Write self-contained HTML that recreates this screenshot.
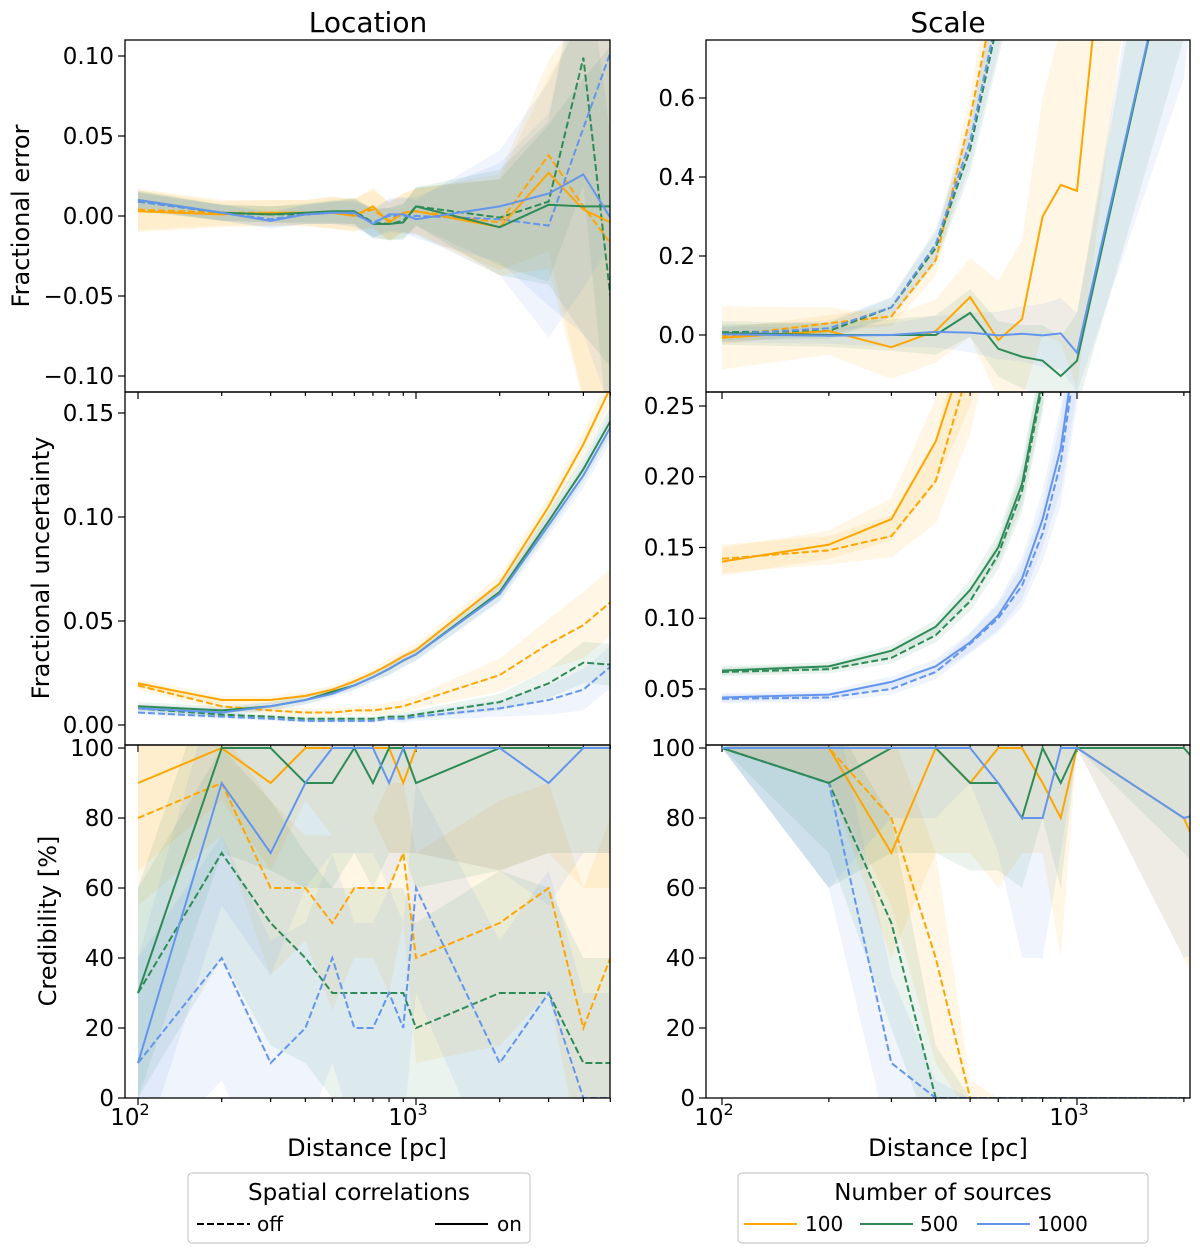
<!DOCTYPE html>
<html><head><meta charset="utf-8">
<style>
html,body{margin:0;padding:0;background:#fff;}
svg{display:block;font-family:"DejaVu Sans","Liberation Sans",sans-serif;}
</style></head>
<body>
<svg id="chart" width="1200" height="1254" viewBox="0 0 1200 1254" xmlns="http://www.w3.org/2000/svg">
<text x="368" y="32" font-size="28" text-anchor="middle">Location</text>
<text x="948" y="32" font-size="28" text-anchor="middle">Scale</text>
<text transform="translate(29,216) rotate(-90)" font-size="24" text-anchor="middle">Fractional error</text>
<text transform="translate(49,568) rotate(-90)" font-size="24" text-anchor="middle">Fractional uncertainty</text>
<text transform="translate(56,921) rotate(-90)" font-size="24" text-anchor="middle">Credibility [%]</text>
<text x="367" y="1156" font-size="24" text-anchor="middle">Distance [pc]</text>
<text x="948" y="1156" font-size="24" text-anchor="middle">Distance [pc]</text>
<g id="panels"></g>
<g>
<rect x="188" y="1173" width="342" height="70" rx="4" fill="#fff" stroke="#ccc" stroke-width="1.2"/>
<text x="359" y="1200" font-size="23" text-anchor="middle">Spatial correlations</text>
<g><line x1="197" y1="1224" x2="250" y2="1224" stroke="#000" stroke-width="2" stroke-dasharray="7,3"/><text x="257" y="1231" font-size="20">off</text></g>
<g><line x1="435" y1="1224" x2="488" y2="1224" stroke="#000" stroke-width="2"/><text x="497" y="1231" font-size="20">on</text></g>
</g>
<g>
<rect x="738" y="1173" width="410" height="70" rx="4" fill="#fff" stroke="#ccc" stroke-width="1.2"/>
<text x="943" y="1200" font-size="23" text-anchor="middle">Number of sources</text>
<g><line x1="744" y1="1224" x2="797" y2="1224" stroke="#FFA500" stroke-width="2"/><text x="805" y="1231" font-size="20">100</text></g>
<g><line x1="860" y1="1224" x2="913" y2="1224" stroke="#2E8B57" stroke-width="2"/><text x="920" y="1231" font-size="20">500</text></g>
<g><line x1="977" y1="1224" x2="1030" y2="1224" stroke="#6495ED" stroke-width="2"/><text x="1037" y="1231" font-size="20">1000</text></g>
</g>
</svg>
<script>
// distances
const distL = [100,200,300,400,500,600,700,800,900,1000,2000,3000,4000,5000];
const distR = [100,200,300,400,500,600,700,800,900,1000,2000,3000];

// Location - fractional error
const tlOrangeOn  = [0.003,0.001,0.002,0.002,0.002,0.000,0.006,-0.004,0.002,0.003,-0.007,0.027,0.004,-0.004];
const tlOrangeOff = [0.004,0.002,0.002,0.002,0.002,0.001,0.004,-0.003,0.002,0.003,-0.004,0.038,0.006,-0.017];
const tlGreenOn   = [0.010,0.002,0.001,0.002,0.003,0.003,-0.005,-0.005,-0.004,0.006,-0.007,0.007,0.006,0.006];
const tlGreenOff  = [0.009,0.002,0.001,0.001,0.002,0.003,-0.004,-0.005,-0.003,0.006,-0.001,0.009,0.099,-0.050];
const tlBlueOn    = [0.010,0.002,-0.003,0.001,0.002,0.002,-0.005,0.001,0.001,-0.002,0.006,0.014,0.026,-0.001];
const tlBlueOff   = [0.009,0.002,-0.002,0.001,0.002,0.001,-0.004,0.000,0.000,0.000,-0.002,-0.006,0.055,0.102];
const tlErrO = [0.013,0.008,0.008,0.008,0.010,0.010,0.012,0.012,0.012,0.014,0.030,0.060,0.120,0.150];
const tlErrG = [0.006,0.005,0.005,0.006,0.007,0.008,0.009,0.010,0.011,0.012,0.030,0.050,0.080,0.100];
const tlErrB = [0.005,0.005,0.005,0.006,0.007,0.008,0.009,0.010,0.011,0.012,0.035,0.070,0.100,0.120];

// Location - fractional uncertainty
const mlOrangeOn  = [0.020,0.012,0.012,0.014,0.017,0.021,0.025,0.029,0.033,0.036,0.068,0.105,0.135,0.162];
const mlOrangeOff = [0.019,0.009,0.007,0.006,0.006,0.007,0.007,0.008,0.009,0.011,0.024,0.039,0.048,0.059];
const mlGreenOn   = [0.009,0.007,0.009,0.012,0.016,0.019,0.023,0.027,0.031,0.034,0.064,0.098,0.123,0.146];
const mlGreenOff  = [0.008,0.005,0.004,0.003,0.003,0.003,0.003,0.004,0.004,0.005,0.011,0.020,0.030,0.029];
const mlBlueOn    = [0.008,0.006,0.009,0.012,0.015,0.019,0.023,0.027,0.031,0.034,0.063,0.096,0.120,0.143];
const mlBlueOff   = [0.006,0.004,0.003,0.002,0.002,0.002,0.002,0.003,0.003,0.004,0.008,0.012,0.017,0.028];
const mlErrOn  = [0.002,0.002,0.002,0.002,0.002,0.002,0.002,0.003,0.003,0.003,0.004,0.005,0.006,0.007];
const mlErrOffO = [0.002,0.002,0.002,0.002,0.002,0.002,0.002,0.003,0.003,0.003,0.008,0.012,0.016,0.016];
const mlErrOffG = [0.001,0.001,0.001,0.001,0.001,0.001,0.001,0.001,0.002,0.002,0.004,0.007,0.010,0.010];

// Location - credibility
const blOrangeOn  = [90,100,90,100,100,100,100,100,90,100,100,100,100,100];
const blOrangeOff = [80,90,60,60,50,60,60,60,70,40,50,60,20,40];
const blGreenOn   = [30,100,100,90,90,100,90,100,100,90,100,100,100,100];
const blGreenOff  = [30,70,50,40,30,30,30,30,30,20,30,30,10,10];
const blBlueOn    = [10,90,70,90,100,100,100,90,100,100,100,90,100,100];
const blBlueOff   = [10,40,10,20,40,20,20,30,20,60,10,30,0,0];
const blErrO = [25,15,25,15,25,20,20,30,20,30,35,30,40,40];
const blErrG = [30,30,35,30,30,30,30,30,30,30,35,30,30,30];
const blErrB = [30,35,35,30,30,30,30,30,30,30,35,35,30,30];

// Scale - fractional error
const trOrangeOn  = [-0.007,0.010,-0.031,0.010,0.096,-0.013,0.040,0.300,0.380,0.365,3.0,5.0];
const trOrangeOff = [-0.004,0.030,0.047,0.190,0.550,0.900,1.200,1.600,2.000,2.400,5.0,8.0];
const trGreenOn   = [0.005,0.000,0.000,0.000,0.056,-0.035,-0.055,-0.065,-0.104,-0.065,1.150,3.0];
const trGreenOff  = [0.007,0.010,0.070,0.220,0.470,0.800,1.100,1.500,1.900,2.300,5.0,8.0];
const trBlueOn    = [0.002,-0.002,0.000,0.008,0.006,-0.001,0.003,-0.001,0.004,-0.045,1.150,3.0];
const trBlueOff   = [0.002,0.017,0.070,0.230,0.490,0.820,1.120,1.500,1.900,2.300,5.0,8.0];
const trErrO  = [0.080,0.060,0.080,0.080,0.100,0.150,0.200,0.300,0.400,0.500,1.0,1.5];
const trErrG  = [0.030,0.030,0.040,0.050,0.060,0.070,0.080,0.090,0.100,0.120,0.40,0.6];
const trErrB  = [0.020,0.020,0.030,0.040,0.050,0.060,0.070,0.080,0.090,0.100,0.50,0.8];
const trErrOff = [0.020,0.020,0.025,0.040,0.060,0.100,0.150,0.200,0.300,0.400,1.0,1.5];

// Scale - fractional uncertainty
const mrOrangeOn  = [0.140,0.152,0.170,0.225,0.300,0.450,0.600,0.800,1.000,1.200,3.0,5.0];
const mrOrangeOff = [0.142,0.148,0.158,0.197,0.280,0.400,0.550,0.750,0.950,1.150,3.0,5.0];
const mrGreenOn   = [0.063,0.066,0.077,0.094,0.120,0.150,0.195,0.270,0.400,0.550,1.5,3.0];
const mrGreenOff  = [0.062,0.064,0.072,0.088,0.112,0.145,0.190,0.265,0.390,0.540,1.5,3.0];
const mrBlueOn    = [0.044,0.046,0.055,0.066,0.083,0.102,0.128,0.170,0.220,0.300,1.0,2.0];
const mrBlueOff   = [0.043,0.044,0.050,0.062,0.082,0.100,0.123,0.160,0.210,0.290,1.0,2.0];
const mrErrO  = [0.010,0.010,0.015,0.030,0.050,0.080,0.100,0.150,0.200,0.250,0.5,1.0];
const mrErrGB = [0.003,0.003,0.004,0.005,0.007,0.010,0.015,0.020,0.030,0.040,0.1,0.2];

// Scale - credibility
const brOrangeOn  = [100,100,70,100,90,100,100,90,80,100,80,40];
const brOrangeOff = [100,100,80,40,0,0,0,0,0,0,0,0];
const brGreenOn   = [100,90,100,100,90,90,80,100,90,100,100,80];
const brGreenOff  = [100,90,50,0,0,0,0,0,0,0,0,0];
const brBlueOn    = [100,100,100,100,100,90,80,80,100,100,80,85];
const brBlueOff   = [100,90,10,0,0,0,0,0,0,0,0,0];
const brErrO = [0,10,30,30,20,40,30,20,40,0,40,40];
const brErrG = [0,30,30,30,25,25,20,20,30,0,30,30];
const brErrB = [0,40,20,20,10,20,40,40,30,0,40,40];
const brErrOffO = [0,10,25,30,5,0,0,0,0,0,0,0];
const brErrOffG = [0,20,30,15,0,0,0,0,0,0,0,0];
const brErrOffB = [0,30,25,5,0,0,0,0,0,0,0,0];

// tick values
const tlTicks = [-0.10,-0.05,0.00,0.05,0.10];
const mlTicks = [0.00,0.05,0.10,0.15];
const crTicks = [0,20,40,60,80,100];
const trTicks = [0.0,0.2,0.4,0.6];
const mrTicks = [0.05,0.10,0.15,0.20,0.25];

const OR='#FFA500', GR='#2E8B57', BL='#6495ED';
const NS='http://www.w3.org/2000/svg';
const root=document.getElementById('panels');
function mk(tag,attrs,parent){const e=document.createElementNS(NS,tag);for(const k in attrs)e.setAttribute(k,attrs[k]);(parent||root).appendChild(e);return e;}
function fmt(v,dec){let s=v.toFixed(dec);if(v<0)s='\u2212'+s.slice(1);return s;}

let clipId=0;
function panel(name,box,xcfg,ydom,ticks,dec,series,showXLab){
  const g=mk('g',{});
  
  
  const xs=d=>xcfg.x0+xcfg.dec*(Math.log10(d)-2);
  const ys=v=>box.y1-(v-ydom[0])/(ydom[1]-ydom[0])*(box.y1-box.y0);
  const cid='clip'+(clipId++);
  const cp=mk('clipPath',{id:cid},g);
  mk('rect',{x:box.x0,y:box.y0,width:box.x1-box.x0,height:box.y1-box.y0},cp);
  const pg=mk('g',{'clip-path':'url(#'+cid+')'},g);
  series.forEach(s=>{
    if(!s.e) return;
    let pts=s.d.map((d,i)=>xs(d)+','+ys(s.v[i]+s.e[i]));
    let lo=s.d.map((d,i)=>xs(d)+','+ys(s.v[i]-s.e[i])).reverse();
    const p=mk('polygon',{points:pts.concat(lo).join(' '),fill:s.c,'fill-opacity':0.1,stroke:'none'},pg);
    
    
  });
  series.forEach(s=>{
    const l=mk('polyline',{points:s.d.map((d,i)=>xs(d)+','+ys(s.v[i])).join(' '),fill:'none',stroke:s.c,'stroke-width':2,'stroke-dasharray':s.dash?'7,3':'none','stroke-linejoin':'miter'},pg);
    
    
  });
  mk('rect',{x:box.x0,y:box.y0,width:box.x1-box.x0,height:box.y1-box.y0,fill:'none',stroke:'#000','stroke-width':1.3},g);
  ticks.forEach(t=>{
    const y=ys(t);
    mk('line',{x1:box.x0-7,x2:box.x0,y1:y,y2:y,stroke:'#000','stroke-width':1.2},g);
    const tx=mk('text',{x:box.x0-11,y:y+8,'font-size':23,'text-anchor':'end'},g);
    tx.textContent=fmt(t,dec);
  });
  for(let dd=2;dd<=3;dd++){
    for(let m=1;m<=9;m++){
      const d=m*Math.pow(10,dd);
      const x=xs(d);
      if(x<box.x0-0.5||x>box.x1+0.5)continue;
      const len=m===1?7:4;
      mk('line',{x1:x,x2:x,y1:box.y1,y2:box.y1+len,stroke:'#000','stroke-width':1.2},g);
      if(m===1&&showXLab){
        const tx=mk('text',{x:x-8,y:box.y1+27,'font-size':23,'text-anchor':'middle'},g);
        tx.textContent='10';
        const sp=mk('tspan',{dy:-10,'font-size':16},tx);
        sp.textContent=String(dd);
      }
    }
  }
}
const XL={x0:138,dec:278}, XR={x0:722,dec:355};
const bL={x0:125,x1:610}, bR={x0:706,x1:1190};
const rT={y0:40,y1:392}, rM={y0:392,y1:745}, rB={y0:745,y1:1098};
const B=(a,b)=>Object.assign({},a,b);
function S(n,d,v,e,c,dash){return {n:n,d:d,v:v,e:e,c:c,dash:dash};}

panel('location-error-panel',B(bL,rT),XL,[-0.11,0.11],tlTicks,2,[
 S('orange-off',distL,tlOrangeOff,tlErrO,OR,true),S('green-off',distL,tlGreenOff,tlErrG,GR,true),S('blue-off',distL,tlBlueOff,tlErrB,BL,true),
 S('orange-on',distL,tlOrangeOn,tlErrO,OR,false),S('green-on',distL,tlGreenOn,tlErrG,GR,false),S('blue-on',distL,tlBlueOn,tlErrB,BL,false)],false);
panel('location-uncertainty-panel',B(bL,rM),XL,[-0.00962,0.1601],mlTicks,2,[
 S('orange-off',distL,mlOrangeOff,mlErrOffO,OR,true),S('green-off',distL,mlGreenOff,mlErrOffG,GR,true),S('blue-off',distL,mlBlueOff,mlErrOffG,BL,true),
 S('orange-on',distL,mlOrangeOn,mlErrOn,OR,false),S('green-on',distL,mlGreenOn,mlErrOn,GR,false),S('blue-on',distL,mlBlueOn,mlErrOn,BL,false)],false);
panel('location-credibility-panel',B(bL,rB),XL,[0,100.86],crTicks,0,[
 S('orange-off',distL,blOrangeOff,blErrO,OR,true),S('green-off',distL,blGreenOff,blErrG,GR,true),S('blue-off',distL,blBlueOff,blErrB,BL,true),
 S('orange-on',distL,blOrangeOn,blErrO,OR,false),S('green-on',distL,blGreenOn,blErrG,GR,false),S('blue-on',distL,blBlueOn,blErrB,BL,false)],true);
panel('scale-error-panel',B(bR,rT),XR,[-0.1443,0.7468],trTicks,1,[
 S('orange-off',distR,trOrangeOff,trErrOff,OR,true),S('green-off',distR,trGreenOff,trErrOff,GR,true),S('blue-off',distR,trBlueOff,trErrOff,BL,true),
 S('orange-on',distR,trOrangeOn,trErrO,OR,false),S('green-on',distR,trGreenOn,trErrG,GR,false),S('blue-on',distR,trBlueOn,trErrB,BL,false)],false);
panel('scale-uncertainty-panel',B(bR,rM),XR,[0.0104,0.2599],mrTicks,2,[
 S('orange-off',distR,mrOrangeOff,mrErrO,OR,true),S('green-off',distR,mrGreenOff,mrErrGB,GR,true),S('blue-off',distR,mrBlueOff,mrErrGB,BL,true),
 S('orange-on',distR,mrOrangeOn,mrErrO,OR,false),S('green-on',distR,mrGreenOn,mrErrGB,GR,false),S('blue-on',distR,mrBlueOn,mrErrGB,BL,false)],false);
panel('scale-credibility-panel',B(bR,rB),XR,[0,100.86],crTicks,0,[
 S('orange-off',distR,brOrangeOff,brErrOffO,OR,true),S('green-off',distR,brGreenOff,brErrOffG,GR,true),S('blue-off',distR,brBlueOff,brErrOffB,BL,true),
 S('orange-on',distR,brOrangeOn,brErrO,OR,false),S('green-on',distR,brGreenOn,brErrG,GR,false),S('blue-on',distR,brBlueOn,brErrB,BL,false)],true);
</script>
</body></html>
